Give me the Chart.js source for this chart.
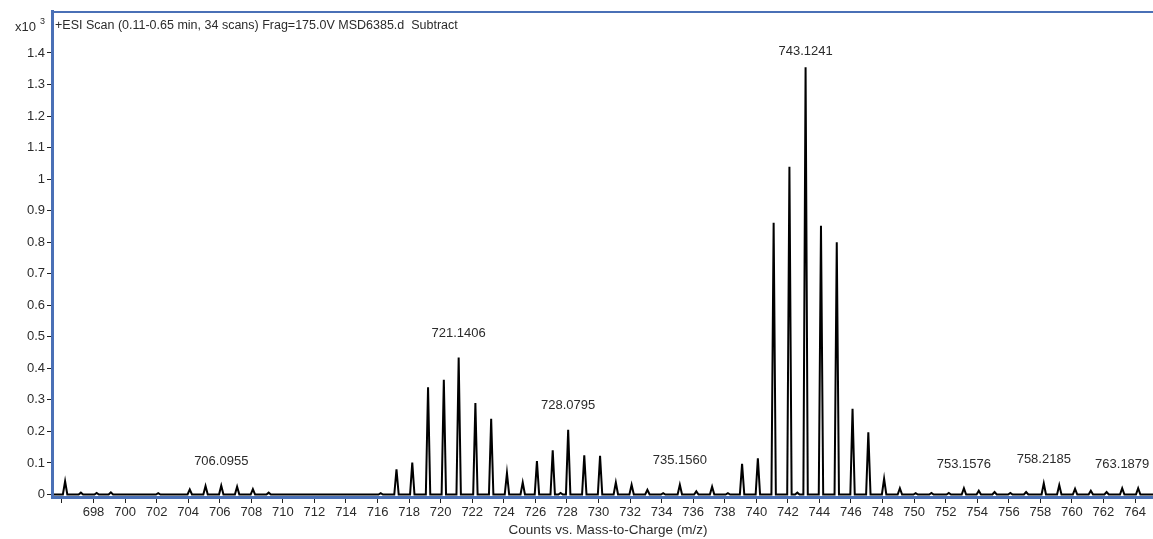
<!DOCTYPE html>
<html>
<head>
<meta charset="utf-8">
<script src="https://cdn.jsdelivr.net/npm/chart.js@4.4.1/dist/chart.umd.min.js"></script>
<style>
  html, body { margin: 0; padding: 0; background: #fff; overflow: hidden; }
  canvas { display: block; }
</style>
</head>
<body>
<canvas id="spectrum" width="1153" height="539"></canvas>
<script>
// Centroid m/z of each isotope peak and its intensity (counts x10^3)
const peakMz = [
  696.2, 697.2, 698.2, 699.1, 702.1,
  704.1, 705.1, 706.0955, 707.1, 708.1, 709.1,
  716.2, 717.2, 718.2, 719.2, 720.2, 721.1406, 722.2, 723.2, 724.2, 725.2,
  726.1, 727.1, 727.6, 728.0795, 729.1, 730.1, 731.1, 732.1, 733.1, 734.1,
  735.1560, 736.2, 737.2, 738.2, 739.1, 740.1, 741.1, 742.1, 742.6, 743.1241,
  744.1, 745.1, 746.1, 747.1, 748.1, 749.1, 750.1, 751.1, 752.2,
  753.1576, 754.1, 755.1, 756.1, 757.1, 758.2185, 759.2, 760.2, 761.2, 762.2,
  763.1879, 764.2
];
const peakCounts = [
  0.042, 0.006, 0.005, 0.007, 0.004,
  0.016, 0.027, 0.028, 0.025, 0.017, 0.006,
  0.004, 0.080, 0.101, 0.340, 0.364, 0.434, 0.290, 0.240, 0.068, 0.038,
  0.106, 0.140, 0.005, 0.205, 0.124, 0.123, 0.038, 0.031, 0.015, 0.004,
  0.031, 0.010, 0.025, 0.004, 0.097, 0.115, 0.862, 1.039, 0.006, 1.355,
  0.852, 0.800, 0.272, 0.197, 0.050, 0.020, 0.004, 0.005, 0.005,
  0.020, 0.012, 0.008, 0.005, 0.008, 0.035, 0.030, 0.018, 0.012, 0.008,
  0.020, 0.020
];
// Annotated peaks
const labelMz = [706.0955, 721.1406, 728.0795, 735.1560, 743.1241, 753.1576, 758.2185, 763.1879];

const xTickValues = [696, 698, 700, 702, 704, 706, 708, 710, 712, 714, 716, 718, 720, 722, 724,
  726, 728, 730, 732, 734, 736, 738, 740, 742, 744, 746, 748, 750, 752, 754, 756, 758, 760, 762, 764];
const xTickLabels = ['', '698', '700', '702', '704', '706', '708', '710', '712', '714', '716', '718',
  '720', '722', '724', '726', '728', '730', '732', '734', '736', '738', '740', '742', '744', '746',
  '748', '750', '752', '754', '756', '758', '760', '762', '764'];
const yTickValues = [0, 0.1, 0.2, 0.3, 0.4, 0.5, 0.6, 0.7, 0.8, 0.9, 1, 1.1, 1.2, 1.3, 1.4];
const yTickLabels = ['0', '0.1', '0.2', '0.3', '0.4', '0.5', '0.6', '0.7', '0.8', '0.9', '1',
  '1.1', '1.2', '1.3', '1.4'];

const scanTitle = '+ESI Scan (0.11-0.65 min, 34 scans) Frag=175.0V MSD6385.d  Subtract';
const xAxisTitle = 'Counts vs. Mass-to-Charge (m/z)';

// View range
const X_MIN = 695.37, X_MAX = 765.14;
const Y_MIN = -0.0079, Y_MAX = 1.533;

const FONT = '"Liberation Sans", Arial, sans-serif';
const FRAME_BLUE = '#4a70b6';
const TEXT = '#2b2b2b';
const PEAK_HALF_WIDTH = 0.14;

// Profile trace: each peak rises from the baseline to its apex and back
const profile = [{ x: X_MIN, y: 0 }];
peakMz.forEach((mz, i) => {
  profile.push({ x: mz - PEAK_HALF_WIDTH, y: 0 });
  profile.push({ x: mz, y: peakCounts[i] });
  profile.push({ x: mz + PEAK_HALF_WIDTH, y: 0 });
});
profile.push({ x: X_MAX, y: 0 });

const decorations = {
  id: 'decorations',
  afterDatasetsDraw(chart) {
    const { ctx, chartArea: a, scales: { x, y } } = chart;
    ctx.save();
    ctx.fillStyle = TEXT;
    ctx.textAlign = 'center';
    ctx.textBaseline = 'middle';
    ctx.font = '13px ' + FONT;
    labelMz.forEach(mz => {
      const i = peakMz.indexOf(mz);
      const px = x.getPixelForValue(mz);
      const py = Math.max(y.getPixelForValue(peakCounts[i]) - 24, a.top + 40);
      ctx.fillText(mz.toFixed(4), px, py);
    });
    ctx.restore();
  },
  afterDraw(chart) {
    const { ctx, chartArea: a } = chart;
    ctx.save();
    // plot frame (top and left edges)
    ctx.strokeStyle = FRAME_BLUE;
    ctx.lineWidth = 2;
    ctx.beginPath();
    ctx.moveTo(a.left, a.top + 1);
    ctx.lineTo(a.right + 2, a.top + 1);
    ctx.moveTo(a.left, a.top);
    ctx.lineTo(a.left, a.bottom);
    ctx.stroke();
    // scan title inside the frame
    ctx.fillStyle = TEXT;
    ctx.textBaseline = 'middle';
    ctx.textAlign = 'left';
    ctx.font = '12.5px ' + FONT;
    ctx.fillText(scanTitle, a.left + 3, 26);
    // intensity multiplier
    ctx.textAlign = 'right';
    ctx.font = '13px ' + FONT;
    ctx.fillText('x10', 36, 27);
    ctx.textAlign = 'left';
    ctx.font = '9px ' + FONT;
    ctx.fillText('3', 40, 22);
    // x axis title
    ctx.textAlign = 'center';
    ctx.font = '13.5px ' + FONT;
    ctx.fillText(xAxisTitle, 608, 530);
    ctx.restore();
  }
};

new Chart(document.getElementById('spectrum'), {
  type: 'line',
  data: {
    datasets: [{
      data: profile,
      borderColor: '#000',
      borderWidth: 2,
      pointRadius: 0,
      tension: 0,
      fill: false
    }]
  },
  options: {
    responsive: false,
    animation: false,
    devicePixelRatio: 1,
    layout: { padding: { top: 11, right: 0, left: 0, bottom: 0 } },
    plugins: { legend: { display: false }, tooltip: { enabled: false }, title: { display: false } },
    scales: {
      x: {
        type: 'linear',
        min: X_MIN,
        max: X_MAX,
        afterBuildTicks: s => { s.ticks = xTickValues.map(v => ({ value: v })); },
        afterFit: s => { s.height = 42; },
        ticks: {
          autoSkip: false,
          maxRotation: 0,
          padding: 2,
          color: TEXT,
          font: { family: FONT, size: 13 },
          callback: (v) => { const i = xTickValues.indexOf(v); return i >= 0 ? xTickLabels[i] : ''; }
        },
        grid: { drawOnChartArea: false, drawTicks: true, tickLength: 6, color: '#222', lineWidth: 1 },
        border: { display: true, color: FRAME_BLUE, width: 3, z: 1 },
        title: { display: false }
      },
      y: {
        type: 'linear',
        min: Y_MIN,
        max: Y_MAX,
        afterBuildTicks: s => { s.ticks = yTickValues.map(v => ({ value: v })); },
        afterFit: s => { s.width = 52; },
        ticks: {
          autoSkip: false,
          padding: 2,
          color: TEXT,
          font: { family: FONT, size: 13 },
          callback: (v) => { const i = yTickValues.indexOf(v); return i >= 0 ? yTickLabels[i] : ''; }
        },
        grid: { drawOnChartArea: false, drawTicks: true, tickLength: 5, color: '#222', lineWidth: 1 },
        border: { display: true, color: FRAME_BLUE, width: 3, z: 1 }
      }
    }
  },
  plugins: [decorations]
});
</script>
</body>
</html>
